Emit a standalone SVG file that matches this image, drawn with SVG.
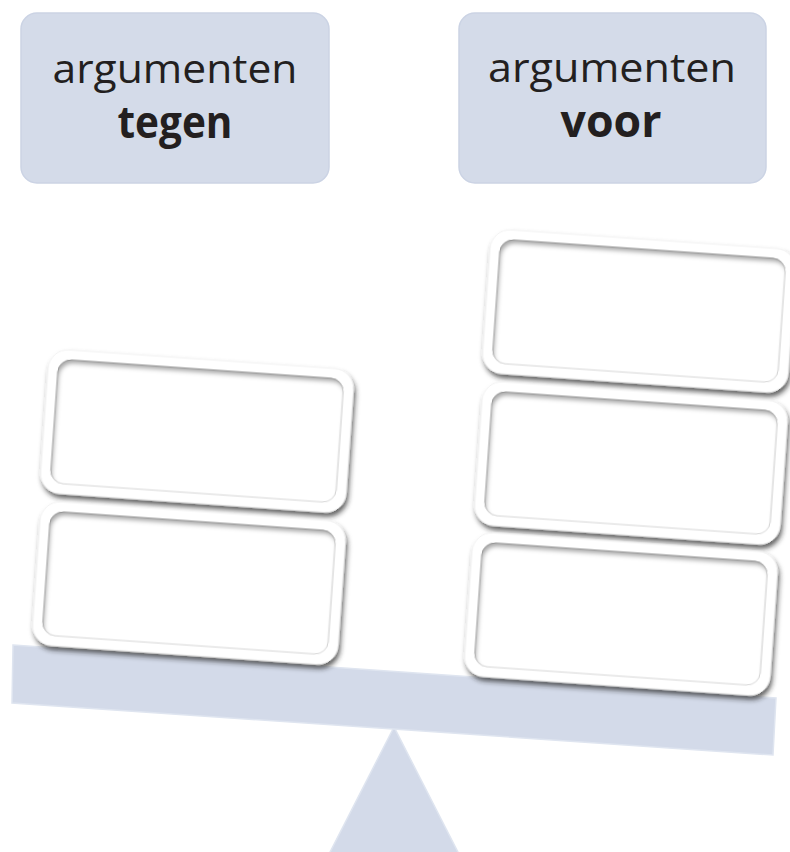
<svg xmlns="http://www.w3.org/2000/svg" width="790" height="852" viewBox="0 0 790 852">
  <defs>
    <style>
      .lbl { fill: #d4dbe9; stroke: #cbd3e4; stroke-width: 1.5; }
      .t1 { font-family: "Open Sans", "Liberation Sans", sans-serif; font-size: 40px; fill: #231f20; text-anchor: middle; }
      .t2 { font-family: "Open Sans", "Liberation Sans", sans-serif; font-size: 45px; font-weight: bold; fill: #231f20; text-anchor: middle; }
      .beam { fill: #d3dae9; stroke: #dfe5f0; stroke-width: 1.5; }
      .outer { fill: #ffffff; stroke: #f2f2f2; stroke-width: 1; }
      .inner { fill: #ffffff; stroke: #d8d8d8; stroke-width: 1; }
    </style>
    <filter id="drop" x="-10%" y="-15%" width="125%" height="140%">
      <feDropShadow dx="2" dy="4" stdDeviation="2.8" flood-color="#222" flood-opacity="0.7"/>
    </filter>
    <filter id="inset" x="-5%" y="-10%" width="110%" height="120%">
      <feFlood flood-color="#000" flood-opacity="0.6" result="f"/>
      <feComposite in="f" in2="SourceAlpha" operator="out" result="o"/>
      <feOffset in="o" dx="1.5" dy="4" result="off"/>
      <feGaussianBlur in="off" stdDeviation="2.2" result="b"/>
      <feComposite in="b" in2="SourceAlpha" operator="in" result="s"/>
      <feMerge><feMergeNode in="SourceGraphic"/><feMergeNode in="s"/></feMerge>
    </filter>
    <g id="card">
      <rect class="outer" x="-153" y="-72" width="306" height="144" rx="20" filter="url(#drop)"/>
      <rect class="inner" x="-143" y="-62" width="286" height="124" rx="13" filter="url(#inset)"/>
    </g>
  </defs>

  <rect width="790" height="852" fill="#ffffff"/>

  <g id="fulcrum">
    <polygon class="beam" points="394,727 326,860 462,860"/>
  </g>
  <g id="beam">
    <polygon class="beam" points="13,645 776,698 773,755 12,703"/>
  </g>

  <g id="label-tegen">
    <rect class="lbl" x="21" y="13" width="308" height="170" rx="16"/>
    <text class="t1" x="175" y="83" textLength="245" lengthAdjust="spacingAndGlyphs">argumenten</text>
    <text class="t2" x="175" y="138" textLength="115" lengthAdjust="spacingAndGlyphs">tegen</text>
  </g>
  <g id="label-voor">
    <rect class="lbl" x="459" y="13" width="307" height="170" rx="16"/>
    <text class="t1" x="612" y="82" textLength="248" lengthAdjust="spacingAndGlyphs">argumenten</text>
    <text class="t2" x="611" y="137" textLength="101" lengthAdjust="spacingAndGlyphs">voor</text>
  </g>

  <g id="tegen-1"><use href="#card" transform="translate(197,431) rotate(4)"/></g>
  <g id="tegen-2"><use href="#card" transform="translate(189,583) rotate(4)"/></g>

  <g id="voor-1"><use href="#card" transform="translate(639,311) rotate(4)"/></g>
  <g id="voor-2"><use href="#card" transform="translate(631,463) rotate(4)"/></g>
  <g id="voor-3"><use href="#card" transform="translate(621,614) rotate(4)"/></g>

  <g id="connectors"></g>
</svg>
